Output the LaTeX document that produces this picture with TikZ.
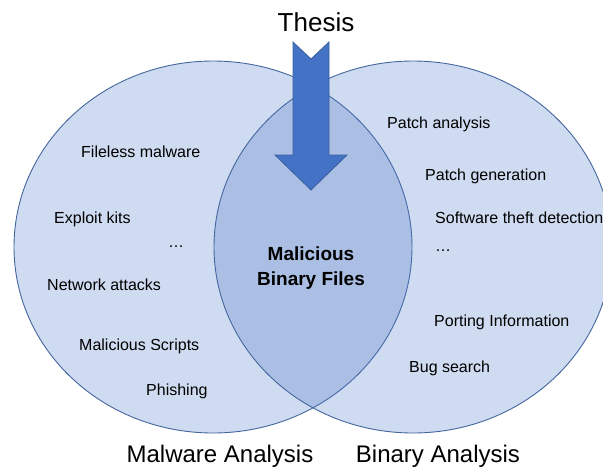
\documentclass[tikz,border=0pt]{standalone}
\usepackage{fontspec}
\setmainfont{Liberation Sans}
\usetikzlibrary{shapes.geometric}
\definecolor{setblue}{HTML}{4472C4}
\definecolor{setedge}{HTML}{44669F}
\definecolor{arrowedge}{HTML}{3A5F9E}
\tikzstyle{setstyle}=[ellipse, draw=setedge, line width=0.9pt, fill=setblue,
fill opacity=0.26, inner sep=0pt, minimum width=398pt, minimum height=372pt]
\tikzstyle{itemstyle}=[anchor=base west, inner sep=0pt,
font=\fontsize{16}{19}\selectfont]
\tikzstyle{setlabel}=[anchor=base, inner sep=0pt,
font=\fontsize{24}{28}\selectfont]

\begin{document}
\begin{tikzpicture}[x=1pt,y=-1pt]
\useasboundingbox (0,0) rectangle (603,469);
\clip (0,0) rectangle (603,469);

% Sets
\path (213,247) node[setstyle] (malware) {};
\path (413,247) node[setstyle] (binary) {};
\path (220,462) node[setlabel] (malwarelbl) {Malware Analysis};
\path (438,462) node[setlabel] (binarylbl) {Binary Analysis};

% Malware analysis topics
\path (81,157) node[itemstyle] (fileless) {Fileless malware}
	(54,223) node[itemstyle] (exploit) {Exploit kits}
	(168,247) node[itemstyle] (mdots) {…}
	(47,290) node[itemstyle] (network) {Network attacks}
	(79,350) node[itemstyle] (scripts) {Malicious Scripts}
	(146,395) node[itemstyle] (phishing) {Phishing};

% Binary analysis topics
\path (387,128) node[itemstyle] (patchana) {Patch analysis}
	(425,180) node[itemstyle] (patchgen) {Patch generation}
	(435,223) node[itemstyle] (theft) {Software theft detection}
	(435,251) node[itemstyle] (bdots) {…}
	(434,326) node[itemstyle] (porting) {Porting Information}
	(409,372) node[itemstyle] (bugs) {Bug search};

% Thesis arrow
\path (316,31) node[anchor=base, inner sep=0pt,
	font=\fontsize{26}{30}\selectfont] (thesis) {Thesis};
\draw[fill=setblue, draw=arrowedge, line width=0.8pt, line join=miter]
	(293,42) -- (311,59) -- (329,42) -- (329,155) -- (347,155)
	-- (311,190) -- (275,155) -- (293,155) -- cycle;

% Overlap
\path (311,285) node[anchor=base, inner sep=0pt, align=center,
	font=\fontsize{19}{25}\selectfont\bfseries] (overlap) {Malicious\\Binary Files};

\end{tikzpicture}
\end{document}
